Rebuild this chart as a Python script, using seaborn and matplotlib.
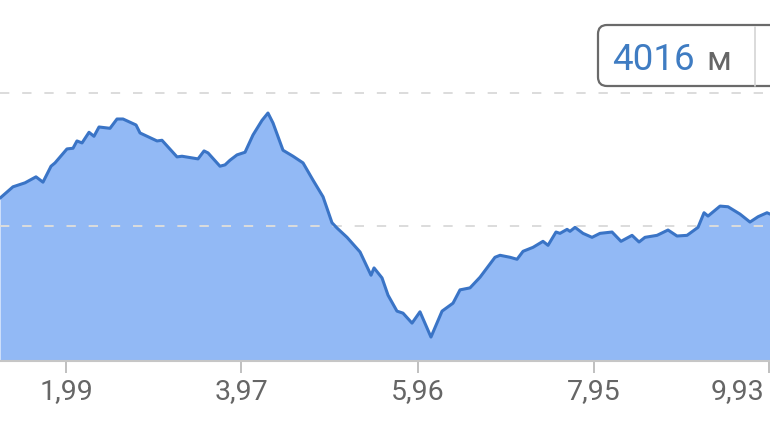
import matplotlib
matplotlib.use("Agg")
import matplotlib.pyplot as plt
import matplotlib.transforms as mtransforms
from matplotlib.patches import FancyBboxPatch
from matplotlib.lines import Line2D
import seaborn as sns
import pandas as pd

# ---- data (distance in km, elevation in m) ----
distance_km = [1.245, 1.391, 1.527, 1.651, 1.730, 1.821, 1.866, 2.001, 2.069, 2.114,
               2.171, 2.250, 2.306, 2.363, 2.487, 2.566, 2.634, 2.781, 2.826, 3.018,
               3.074, 3.244, 3.300, 3.481, 3.549, 3.594, 3.729, 3.786, 3.842, 3.921,
               4.012, 4.102, 4.204, 4.271, 4.328, 4.441, 4.554, 4.667, 4.780, 4.893,
               4.994, 5.051, 5.164, 5.311, 5.435, 5.469, 5.559, 5.627, 5.728, 5.796,
               5.898, 5.988, 6.112, 6.237, 6.361, 6.440, 6.553, 6.666, 6.835, 6.892,
               7.005, 7.084, 7.152, 7.265, 7.377, 7.434, 7.524, 7.569, 7.649, 7.682,
               7.739, 7.829, 7.931, 8.021, 8.157, 8.258, 8.383, 8.462, 8.529, 8.665,
               8.789, 8.891, 9.004, 9.128, 9.196, 9.241, 9.377, 9.467, 9.602, 9.715,
               9.806, 9.907, 9.941]
elevation_m = [3842, 3859, 3865, 3874, 3866, 3890, 3895, 3916, 3917, 3928,
               3925, 3941, 3935, 3949, 3947, 3961, 3961, 3952, 3940, 3928,
               3929, 3904, 3905, 3901, 3913, 3910, 3890, 3892, 3899, 3907,
               3911, 3937, 3959, 3970, 3955, 3914, 3905, 3895, 3869, 3844,
               3805, 3797, 3783, 3761, 3726, 3737, 3722, 3696, 3672, 3669,
               3654, 3671, 3633, 3672, 3684, 3704, 3707, 3723, 3753, 3756,
               3753, 3750, 3762, 3768, 3777, 3771, 3791, 3789, 3795, 3792,
               3798, 3789, 3783, 3789, 3791, 3777, 3786, 3776, 3783, 3786,
               3794, 3785, 3786, 3798, 3820, 3815, 3830, 3829, 3818, 3806,
               3814, 3820, 3818]
tick_values = [1.99, 3.97, 5.96, 7.95, 9.93]
tick_labels = ["1,99", "3,97", "5,96", "7,95", "9,93"]
grid_levels = [3800, 4000]
badge_value = "4016"
badge_unit = "м"

# ---- style ----
sns.set_style("white")
plt.rcParams["font.family"] = ["Roboto", "DejaVu Sans"]

FILL = "#92b9f5"
LINE = "#3a74c6"
W, H = 770, 445

fig = plt.figure(figsize=(W / 100, H / 100), dpi=100)
ax = fig.add_axes([0, 84 / H, 1, 361 / H])

df = pd.DataFrame({"km": distance_km, "elev": elevation_m})
ymin, ymax = 3597, 4140
ax.fill_between(df["km"], df["elev"], ymin, color=FILL, lw=0, zorder=1)
sns.lineplot(data=df, x="km", y="elev", ax=ax, color=LINE, linewidth=2.2, zorder=3)

for g in grid_levels:
    ax.axhline(g, color="#dcdcdc", lw=1.4, dashes=(4.8, 6.6), zorder=2)

ax.set_xlim(1.2446, 9.941)
ax.set_ylim(ymin, ymax)
ax.set_xlabel("")
ax.set_ylabel("")
ax.set_yticks([])
ax.set_xticks(tick_values)
ax.set_xticklabels(tick_labels)
ax.tick_params(axis="x", direction="inout", length=17, width=1.4, color="#c0c0c0",
               pad=3.5, labelsize=20.5, labelcolor="#666666", bottom=True)
for s in ["top", "left", "right"]:
    ax.spines[s].set_visible(False)
ax.spines["bottom"].set_color("#c6c6c6")
ax.spines["bottom"].set_linewidth(1.5)
ax.spines["bottom"].set_zorder(4)

last = ax.get_xticklabels()[-1]
last.set_ha("right")
last.set_transform(last.get_transform() + mtransforms.ScaledTranslation(-5 / 100, 0, fig.dpi_scale_trans))

# ---- value badge (top right) ----
ident = mtransforms.IdentityTransform()
box = FancyBboxPatch((598, H - 86), 200, 61, boxstyle="round,pad=0,rounding_size=9",
                     transform=ident, facecolor="white", edgecolor="#6a6a6a", lw=1.6, zorder=10)
fig.add_artist(box)
fig.add_artist(Line2D([755 / W, 755 / W], [(H - 86) / H, (H - 27) / H], transform=fig.transFigure,
                      color="#d4d4d4", lw=1.2, zorder=11))
fig.text(612 / W, (H - 70) / H, badge_value, color="#3f7cc2", fontsize=26.5,
         ha="left", va="baseline", zorder=12)
fig.text(706 / W, (H - 70) / H, badge_unit, color="#666666", fontsize=24,
         ha="left", va="baseline", zorder=12)

fig.savefig("out.png", dpi=100)
